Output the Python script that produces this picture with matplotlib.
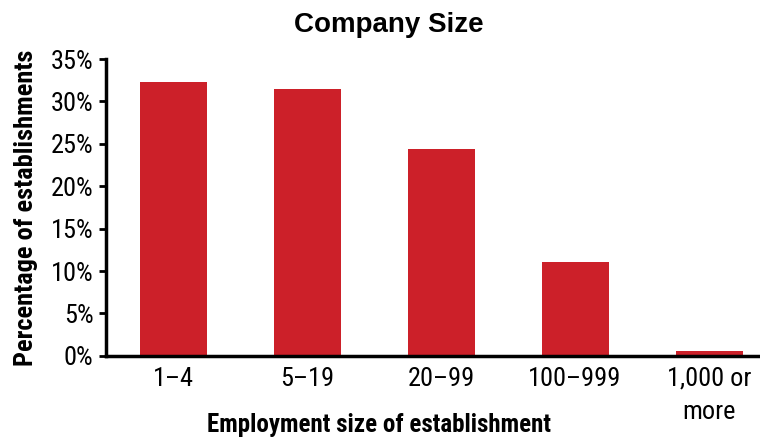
import matplotlib
matplotlib.use("Agg")
import matplotlib.pyplot as plt
from matplotlib.ticker import FuncFormatter

categories = ["1\u20134", "5\u201319", "20\u201399", "100\u2013999", "1,000 or\nmore"]
shares = [32.3, 31.5, 24.4, 11.1, 0.6]
yticks = [0, 5, 10, 15, 20, 25, 30, 35]

plt.rcParams['font.family'] = ['Roboto Condensed', 'DejaVu Sans']

fig = plt.figure(figsize=(7.6, 4.41), dpi=100)
ax = fig.add_axes([0.1395, 0.193, 0.8605, 0.673])

ax.bar(range(len(categories)), shares, width=0.5, color="#CC2029")

ax.set_xlim(-0.5, 4.38)
ax.set_ylim(0, 35)
ax.set_yticks(yticks)
ax.yaxis.set_major_formatter(FuncFormatter(lambda v, p: "%d%%" % v))
ax.set_xticks(range(len(categories)))
ax.set_xticklabels(categories, fontsize=19, linespacing=1.45)
ax.tick_params(axis='y', labelsize=19, length=5, width=2, pad=4)
ax.tick_params(axis='x', length=0, pad=8)

for s in ["top", "right"]:
    ax.spines[s].set_visible(False)
for s in ["left", "bottom"]:
    ax.spines[s].set_linewidth(2.5)

# title in a wider bold face, like the original
fig.text(389 / 760, 1 - 24.5 / 441, "Company Size", fontsize=20, fontweight="bold",
         family=["Liberation Sans", "DejaVu Sans"], ha="center", va="center")
ax.set_xlabel("Employment size of establishment", fontsize=18, fontweight="bold")
ax.xaxis.set_label_coords(0.417, -0.192)
ax.set_ylabel("Percentage of establishments", fontsize=19, fontweight="bold", labelpad=9)

fig.savefig("out.png", dpi=100)
